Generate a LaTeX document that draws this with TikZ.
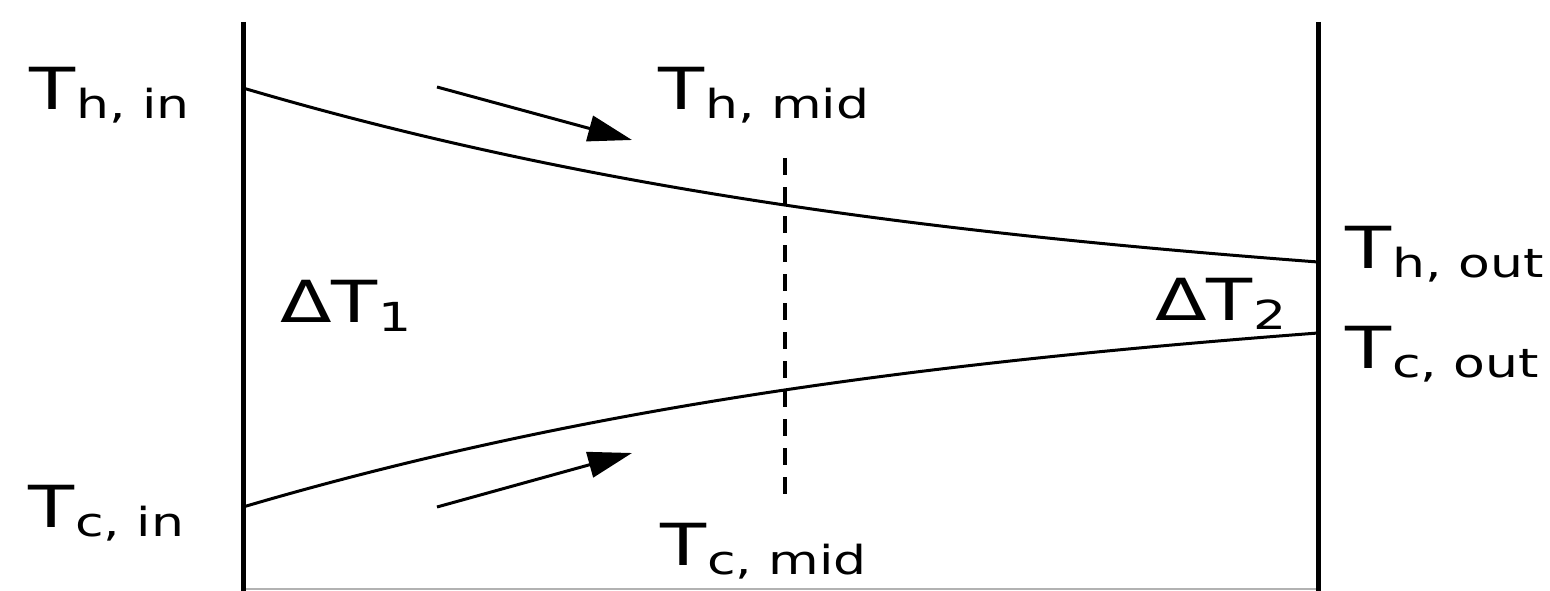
\documentclass[tikz,border=0pt]{standalone}
\usepackage{fontspec}
\newfontfamily\lblfont[FakeStretch=1.3]{DejaVu Sans}
\usetikzlibrary{arrows.meta}
\newcommand{\Tlab}[2]{{\fontsize{58}{60}\selectfont #1}\kern1pt\raisebox{-9pt}{\fontsize{40}{42}\selectfont #2}}
\begin{document}
\begin{tikzpicture}[x=1pt,y=-1pt,
  wall/.style={line width=5pt},
  curve/.style={line width=3pt},
  flow/.style={line width=3pt,-{Triangle[length=44pt,width=26pt]}},
  midline/.style={line width=4pt,dash pattern=on 17pt off 12pt},
  lbl/.style={inner sep=0pt,anchor=base west,font=\lblfont}]
\useasboundingbox (0,0) rectangle (1550,591);
% walls
\coordinate (lt) at (243,22);
\coordinate (lb) at (243,591);
\coordinate (rt) at (1318,22);
\coordinate (rb) at (1318,591);
\coordinate (blt) at (243,589);
\coordinate (brt) at (1318,589);
\draw[gray!60,line width=2pt] (blt) -- (brt);
\draw[wall] (lt) -- (lb);
\draw[wall] (rt) -- (rb);
% temperature curves
\coordinate (hin) at (243,88);
\coordinate (hout) at (1318,262);
\coordinate (cin) at (243,507);
\coordinate (cout) at (1318,333);
\draw[curve] (hin) .. controls (601,193.6) and (960,234.8) .. (hout);
\draw[curve] (cin) .. controls (601,401.4) and (960,360.2) .. (cout);
% mid section
\coordinate (mt) at (785,158);
\coordinate (mb) at (785,505);
\draw[midline] (mt) -- (mb);
% flow arrows
\coordinate (a1s) at (437,87);
\coordinate (a1e) at (632,140);
\coordinate (a2s) at (437,507);
\coordinate (a2e) at (632,453);
\draw[flow] (a1s) -- (a1e);
\draw[flow] (a2s) -- (a2e);
% labels
\node[lbl] (thin)  at (29,110)   {\Tlab{T}{h, in}};
\node[lbl] (thmid) at (658,110)  {\Tlab{T}{h, mid}};
\node[lbl] (thout) at (1345,268) {\Tlab{T}{h, out}};
\node[lbl] (tcout) at (1345,368) {\Tlab{T}{c, out}};
\node[lbl] (tcin)  at (28,527)   {\Tlab{T}{c, in}};
\node[lbl] (tcmid) at (660,565)  {\Tlab{T}{c, mid}};
\node[lbl] (dt1)   at (280,322)  {\Tlab{ΔT}{1}};
\node[lbl] (dt2)   at (1155,320) {\Tlab{ΔT}{2}};
\end{tikzpicture}
\end{document}
